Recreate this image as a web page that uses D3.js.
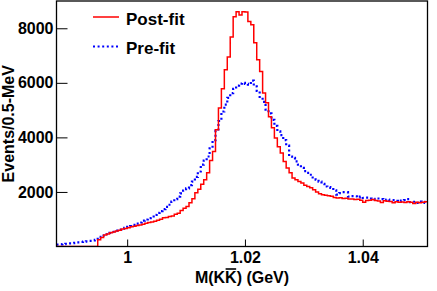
<!DOCTYPE html>
<html>
<head>
<meta charset="utf-8">
<script src="https://cdn.jsdelivr.net/npm/d3@7"></script>
<style>
  body { margin: 0; background: #fff; }
  svg text { font-family: "Liberation Sans", Arial, Helvetica, sans-serif; font-weight: bold; }
</style>
</head>
<body>
<svg width="437" height="291"></svg>
<script>
(function () {
    // Histogram binning (GeV)
    const binLow = 0.988;
    const binWidth = 0.0005;

    // Post-fit counts per 0.5 MeV bin
    const postFit = [
        0, 0, 0, 0, 0, 0, 0, 0, 0, 0,
        0, 0, 0, 0, 250, 330, 420, 460, 500, 530,
        570, 600, 640, 660, 690, 720, 740, 770, 790, 820,
        850, 880, 900, 930, 960, 1000, 1050, 1060, 1100, 1120,
        1180, 1220, 1320, 1400, 1470, 1600, 1750, 1970, 2100, 2280,
        2450, 2700, 3150, 3480, 4280, 5080, 5780, 6480, 6950, 7680,
        8420, 8610, 8490, 8610, 8600, 8250, 8130, 7470, 6850, 6420,
        5630, 5270, 4760, 4350, 3980, 3660, 3430, 3120, 2880, 2700,
        2510, 2450, 2380, 2330, 2250, 2200, 2150, 2080, 2000, 1930,
        1900, 1880, 1860, 1840, 1800, 1780, 1790, 1760, 1770, 1740,
        1740, 1720, 1730, 1700, 1620, 1690, 1700, 1720, 1690, 1670,
        1610, 1680, 1660, 1650, 1600, 1640, 1620, 1630, 1610, 1640,
        1620, 1580, 1620, 1600, 1620, 1640
    ];

    // Pre-fit counts per 0.5 MeV bin
    const preFit = [
        70, 80, 90, 100, 115, 125, 135, 150, 165, 180,
        190, 205, 220, 240, 280, 350, 400, 450, 500, 540,
        580, 620, 650, 680, 720, 750, 790, 840, 880, 950,
        990, 1040, 1100, 1160, 1230, 1300, 1370, 1450, 1530, 1650,
        1740, 1830, 1950, 2050, 2130, 2250, 2380, 2550, 2750, 3000,
        3150, 3300, 3600, 3900, 4250, 4600, 4950, 5200, 5450, 5620,
        5780, 5900, 5970, 6000, 5960, 5930, 6080, 5870, 5700, 5480,
        5300, 5020, 4880, 4640, 4420, 4220, 4080, 3900, 3700, 3300,
        3250, 3120, 3000, 2880, 2760, 2700, 2630, 2530, 2450, 2380,
        2300, 2200, 2180, 2150, 2060, 1900, 1960, 1990, 1990, 1830,
        1850, 1840, 1800, 1830, 1780, 1790, 1760, 1750, 1730, 1760,
        1740, 1700, 1720, 1690, 1700, 1670, 1650, 1680, 1700, 1740,
        1630, 1640, 1600, 1650, 1640, 1600
    ];

    const xTicks = [1, 1.02, 1.04];
    const yTicks = [2000, 4000, 6000, 8000];
    const legendLabels = ["Post-fit", "Pre-fit"];

    const svg = d3.select("svg");

    // Plot frame in pixels
    const left = 56.5, right = 427.5, top = 1, bottom = 246.5;

    const x = d3.scaleLinear().domain([0.988, 1.051]).range([left, right]);
    const y = d3.scaleLinear().domain([0, 9000]).range([bottom, top]);

    svg.append("defs").append("clipPath").attr("id", "plotClip")
        .append("rect")
        .attr("x", left).attr("y", top)
        .attr("width", right - left).attr("height", bottom - top);

    // Turn bin counts into step points
    function steps(counts) {
        const pts = counts.map((c, i) => [binLow + i * binWidth, c]);
        pts.push([binLow + counts.length * binWidth, counts[counts.length - 1]]);
        return pts;
    }

    const line = d3.line()
        .x((d) => x(d[0]))
        .y((d) => y(d[1]))
        .curve(d3.curveStepAfter);

    const plot = svg.append("g").attr("clip-path", "url(#plotClip)");

    plot.append("path")
        .attr("d", line(steps(preFit)))
        .attr("fill", "none")
        .attr("stroke", "#0000ff")
        .attr("stroke-width", 2.2)
        .attr("stroke-dasharray", "2,2.6");

    plot.append("path")
        .attr("d", line(steps(postFit)))
        .attr("fill", "none")
        .attr("stroke", "#ff0000")
        .attr("stroke-width", 1.5);

    // Axes with inward ticks
    const xAxis = svg.append("g")
        .attr("transform", `translate(0,${bottom})`)
        .call(d3.axisBottom(x).tickValues(xTicks).tickSize(-7).tickPadding(5).tickFormat((d) => d));
    const yAxis = svg.append("g")
        .attr("transform", `translate(${left},0)`)
        .call(d3.axisLeft(y).tickValues(yTicks).tickSize(-11).tickPadding(3).tickFormat((d) => d));

    [xAxis, yAxis].forEach((g) => {
        g.select(".domain").remove();
        g.selectAll(".tick line").attr("stroke", "#000").attr("stroke-width", 1);
        g.selectAll(".tick text").attr("fill", "#000").style("font-size", "16px");
    });

    // Frame
    svg.append("rect")
        .attr("x", left).attr("y", top)
        .attr("width", right - left).attr("height", bottom - top)
        .attr("fill", "none")
        .attr("stroke", "#000")
        .attr("stroke-width", 1.3);

    // Axis titles
    const titleBase = 283;
    const xt = svg.append("text")
        .attr("x", (left + right) / 2)
        .attr("y", titleBase)
        .attr("text-anchor", "middle")
        .style("font-size", "16px")
        .text("M(KK) (GeV)");

    // bar over the second K (anti-kaon)
    const node = xt.node();
    const k0 = node.getStartPositionOfChar(3);
    const k1 = node.getEndPositionOfChar(3);
    svg.append("line")
        .attr("x1", k0.x + 0.5).attr("x2", k1.x - 0.5)
        .attr("y1", titleBase - 14).attr("y2", titleBase - 14)
        .attr("stroke", "#000")
        .attr("stroke-width", 1.6);

    svg.append("text")
        .attr("transform", `translate(13.5,${(top + bottom) / 2}) rotate(-90)`)
        .attr("text-anchor", "middle")
        .style("font-size", "16px")
        .text("Events/0.5-MeV");

    // Legend
    const legend = svg.append("g").attr("transform", "translate(93,17)");
    const legendStyles = [
        { color: "#ff0000", width: 1.5, dash: null },
        { color: "#0000ff", width: 2.2, dash: "2,2.6" }
    ];
    legendLabels.forEach((label, i) => {
        const row = legend.append("g").attr("transform", `translate(0,${i * 29.5})`);
        row.append("line")
            .attr("x1", 0).attr("x2", 26)
            .attr("stroke", legendStyles[i].color)
            .attr("stroke-width", legendStyles[i].width)
            .attr("stroke-dasharray", legendStyles[i].dash);
        row.append("text")
            .attr("x", 33).attr("y", 7.5)
            .style("font-size", "17px")
            .text(label);
    });
})();
</script>
</body>
</html>
